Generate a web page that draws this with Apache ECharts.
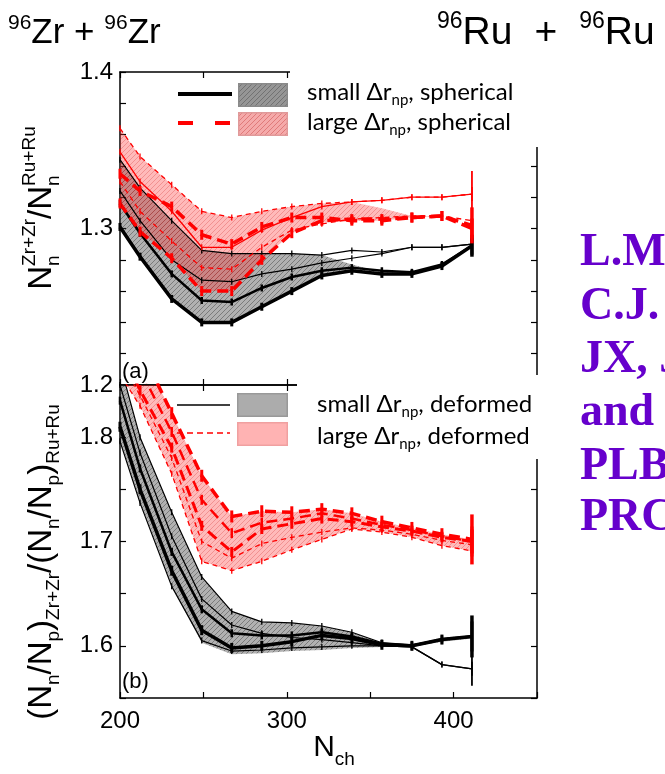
<!DOCTYPE html>
<html><head><meta charset="utf-8">
<script src="https://cdn.jsdelivr.net/npm/echarts@6/dist/echarts.min.js"></script>
<style>html,body{margin:0;padding:0;background:#fff}#c{width:665px;height:774px}</style>
</head><body><div id="c"></div>
<script>
// ---------- data ----------
const nch = [200, 212, 231, 249, 267, 285, 303, 321, 339, 357, 375, 393, 411];
const xTicks = [200, 300, 400];
// panel (a): Nn(Zr+Zr)/Nn(Ru+Ru), spherical
const aBlack1 = [1.301, 1.282, 1.255, 1.240, 1.240, 1.250, 1.260, 1.270, 1.273, 1.271, 1.271, 1.276, 1.289];
const aBlack2 = [1.316, 1.297, 1.271, 1.254, 1.253, 1.262, 1.269, 1.273, 1.275, 1.273, 1.272, 1.277, 1.289];
const aBlack3 = [1.324, 1.305, 1.280, 1.267, 1.266, 1.271, 1.274, 1.278, 1.281, 1.284, 1.288, 1.288, 1.290];
const aBlack4 = [1.344, 1.326, 1.305, 1.286, 1.284, 1.284, 1.284, 1.283, 1.286, 1.285, 1.288, 1.288, 1.290];
const aGrayLow  = [1.301, 1.282, 1.255, 1.240, 1.240, 1.250, 1.260, 1.270, 1.273, 1.271, 1.271, 1.276, 1.289];
const aGrayHigh = [1.344, 1.326, 1.305, 1.286, 1.284, 1.284, 1.284, 1.283, 1.277, 1.272, 1.272, 1.277, 1.289];
const aRed1 = [1.364, 1.346, 1.328, 1.311, 1.307, 1.311, 1.314, 1.316, 1.317, 1.318, 1.320, 1.320, 1.322];
const aRed2 = [1.349, 1.330, 1.311, 1.288, 1.288, 1.299, 1.307, 1.314, 1.317, 1.318, 1.320, 1.320, 1.322];
const aRed3 = [1.335, 1.324, 1.314, 1.296, 1.290, 1.301, 1.307, 1.307, 1.305, 1.305, 1.307, 1.308, 1.302];
const aRed4 = [1.330, 1.311, 1.292, 1.275, 1.274, 1.288, 1.299, 1.303, 1.306, 1.307, 1.308, 1.308, 1.305];
const aRed5 = [1.316, 1.298, 1.281, 1.260, 1.260, 1.280, 1.297, 1.305, 1.306, 1.306, 1.307, 1.308, 1.300];
const aPinkLow  = [1.316, 1.298, 1.281, 1.260, 1.260, 1.280, 1.297, 1.304, 1.305, 1.305, 1.307, 1.308, 1.302];
const aPinkHigh = [1.364, 1.346, 1.328, 1.311, 1.307, 1.311, 1.314, 1.316, 1.317, 1.313, 1.308, 1.308, 1.302];
// panel (b): (Nn/Np)Zr+Zr / (Nn/Np)Ru+Ru, deformed
const bBlack1 = [1.796, 1.737, 1.657, 1.605, 1.595, 1.596, 1.598, 1.599, 1.600, 1.600, 1.599, 1.582, 1.578];
const bBlack2 = [1.810, 1.750, 1.672, 1.615, 1.598, 1.600, 1.604, 1.610, 1.607, 1.601, 1.600, 1.606, 1.609];
const bBlack3 = [1.835, 1.770, 1.690, 1.635, 1.612, 1.610, 1.610, 1.613, 1.609, 1.602, 1.600, 1.606, 1.609];
const bBlack4 = [1.870, 1.800, 1.728, 1.666, 1.633, 1.623, 1.622, 1.619, 1.613, 1.603, 1.601, 1.606, 1.609];
const bBlack5 = [1.850, 1.785, 1.705, 1.645, 1.620, 1.612, 1.608, 1.606, 1.603, 1.600, 1.599, 1.582, 1.578];
const bGrayLow  = [1.796, 1.737, 1.657, 1.603, 1.592, 1.593, 1.595, 1.596, 1.598, 1.599, 1.599, 1.604, 1.607];
const bGrayHigh = [1.870, 1.800, 1.728, 1.666, 1.633, 1.623, 1.622, 1.619, 1.613, 1.603, 1.601, 1.608, 1.610];
const bRed1 = [1.925, 1.886, 1.823, 1.763, 1.724, 1.729, 1.728, 1.731, 1.727, 1.719, 1.713, 1.707, 1.702];
const bRed2 = [1.905, 1.865, 1.805, 1.740, 1.708, 1.718, 1.722, 1.727, 1.722, 1.716, 1.711, 1.705, 1.700];
const bRed3 = [1.885, 1.845, 1.790, 1.715, 1.690, 1.712, 1.717, 1.722, 1.719, 1.714, 1.710, 1.704, 1.700];
const bRed4 = [1.860, 1.830, 1.765, 1.681, 1.672, 1.681, 1.692, 1.702, 1.712, 1.709, 1.704, 1.696, 1.691];
const bRed5 = [1.875, 1.840, 1.780, 1.700, 1.684, 1.698, 1.704, 1.709, 1.713, 1.711, 1.707, 1.701, 1.697];

// ---------- helpers ----------
const SANS = '"Liberation Sans", Arial, sans-serif';
const LEG = 'Lato, "Open Sans", sans-serif';
const mctx = document.createElement('canvas').getContext('2d');
function tw(s, size, fam) { mctx.font = size + 'px ' + fam; return mctx.measureText(s).width; }
function mathText(o) {
  const fam = o.family || SANS, B = o.big, S = o.small, fill = o.fill || '#000';
  const kids = []; let x = 0;
  o.tokens.forEach(t => {
    if (typeof t === 'string') {
      kids.push({type: 'text', x: x, y: 0, z: 120, style: {text: t, font: B + 'px ' + fam, fill: fill, verticalAlign: 'middle', align: 'left'}});
      x += tw(t, B, fam);
    } else if (t.gap) {
      x += t.gap;
    } else {
      let w = 0;
      if (t.sup) { kids.push({type: 'text', x: x, y: -B * (o.supK || 0.33), z: 120, style: {text: t.sup, font: S + 'px ' + fam, fill: fill, verticalAlign: 'middle', align: 'left'}}); w = Math.max(w, tw(t.sup, S, fam)); }
      if (t.sub) { kids.push({type: 'text', x: x, y: B * (o.subK || 0.32), z: 120, style: {text: t.sub, font: S + 'px ' + fam, fill: fill, verticalAlign: 'middle', align: 'left'}}); w = Math.max(w, tw(t.sub, S, fam)); }
      x += w;
    }
  });
  const off = o.anchor === 'center' ? -x / 2 : 0;
  kids.forEach(k => { k.x += off; });
  return {type: 'group', x: o.x, y: o.y, rotation: o.rot || 0, z: 120, children: kids};
}
function hatchTile(step, bg, ln) {
  const c = document.createElement('canvas'); c.width = step; c.height = step;
  const g = c.getContext('2d');
  g.fillStyle = bg; g.fillRect(0, 0, step, step);
  g.strokeStyle = ln; g.lineWidth = 1;
  g.beginPath();
  for (let k = -step; k <= step; k += step) { g.moveTo(k, step); g.lineTo(k + step, 0); }
  g.stroke();
  return c;
}
function swatch(w, h, bg, ln, border) {
  const c = document.createElement('canvas'); c.width = w; c.height = h;
  const g = c.getContext('2d');
  g.fillStyle = bg; g.fillRect(0, 0, w, h);
  if (ln) {
    g.strokeStyle = ln; g.lineWidth = 1; g.beginPath();
    for (let k = -h; k < w + h; k += 5) { g.moveTo(k, h); g.lineTo(k + h, 0); }
    g.stroke();
  }
  g.strokeStyle = border; g.lineWidth = 1.5; g.strokeRect(0.75, 0.75, w - 1.5, h - 1.5);
  return c;
}
const grayTile = hatchTile(5, 'rgba(60,60,60,0.40)', 'rgba(0,0,0,0.30)');
const pinkTile = hatchTile(5, 'rgba(255,40,40,0.32)', 'rgba(190,0,0,0.22)');

const pts = ys => nch.map((x, i) => [x, ys[i]]);
// filled band between two series, drawn through the axes' coordinate system
function band(g, lower, upper, tile) {
  return {type: 'custom', xAxisIndex: g * 2, yAxisIndex: g * 2, data: pts(upper), z: 1, silent: true,
    renderItem: (params, api) => {
      if (params.dataIndex !== 0) return null;
      const up = nch.map((x, i) => api.coord([x, upper[i]]));
      const lo = nch.map((x, i) => api.coord([x, lower[i]])).reverse();
      const cs = params.coordSys;
      return {type: 'polygon', shape: {points: up.concat(lo)},
        style: {fill: {image: tile, repeat: 'repeat'}, stroke: null},
        clipPath: {type: 'rect', shape: {x: cs.x, y: cs.y, width: cs.width, height: cs.height}}};
    }};
}
function line(g, ys, color, width, dash, ew, en, el) {
  const last = ys.length - 1;
  return {type: 'line', xAxisIndex: g * 2, yAxisIndex: g * 2, data: pts(ys), z: 3, silent: true,
    lineStyle: {color: color, width: width, type: dash || 'solid'}, itemStyle: {color: color},
    symbol: 'rect', showSymbol: true, showAllSymbol: true,
    symbolSize: (v, p) => p.dataIndex === last ? [ew + 0.5, el] : [ew, en]};
}
const K = '#000', R = '#ff0000';
const TD = [11, 6], tD = [5, 4];

// ---------- axes ----------
const tickStyle = {inside: true, length: 6, lineStyle: {color: '#000', width: 1.2}};
const axLine = {show: true, onZero: false, lineStyle: {color: '#000', width: 1.5}};
function xAx(g, pos, labels) {
  return {gridIndex: g, type: 'value', min: 200, max: 450, interval: 50, position: pos,
    axisLine: axLine, axisTick: tickStyle, splitLine: {show: false},
    axisLabel: labels ? {show: true, margin: 11, fontSize: 24, color: '#000', fontFamily: SANS,
      formatter: v => xTicks.indexOf(v) >= 0 ? String(v) : ''} : {show: false}};
}
function yAx(g, pos, min, max, iv, labels) {
  return {gridIndex: g, type: 'value', min: min, max: max, interval: iv, position: pos,
    axisLine: axLine, axisTick: tickStyle, splitLine: {show: false},
    axisLabel: labels ? {show: true, margin: 7, fontSize: 24, color: '#000', fontFamily: SANS,
      formatter: v => Math.abs(v * 10 - Math.round(v * 10)) < 1e-6 ? v.toFixed(1) : ''} : {show: false}};
}

const series = [
  band(0, aGrayLow, aGrayHigh, grayTile),
  band(0, aPinkLow, aPinkHigh, pinkTile),
  line(0, aBlack1, K, 3.5, null, 3, 8, 22),
  line(0, aBlack2, K, 2.5, null, 2.5, 7, 18),
  line(0, aBlack3, K, 1.2, null, 1.3, 6, 14),
  line(0, aBlack4, K, 1.2, null, 1.3, 6, 14),
  line(0, aRed1, R, 1.3, tD, 1.3, 6, 14),
  line(0, aRed2, R, 1.3, null, 1.3, 6, 46),
  line(0, aRed3, R, 3.5, TD, 3, 10, 36),
  line(0, aRed4, R, 1.3, tD, 1.3, 6, 14),
  line(0, aRed5, R, 3.5, TD, 3, 10, 20),
  band(1, bGrayLow, bGrayHigh, grayTile),
  band(1, bRed4, bRed1, pinkTile),
  line(1, bBlack1, K, 1.2, null, 1.3, 6, 34),
  line(1, bBlack2, K, 3.5, null, 3, 10, 42),
  line(1, bBlack3, K, 2.5, null, 2.5, 8, 30),
  line(1, bBlack4, K, 1.2, null, 1.3, 6, 14),
  line(1, bBlack5, K, 1.2, null, 1.3, 6, 14),
  line(1, bRed1, R, 3.5, TD, 3, 12, 50),
  line(1, bRed2, R, 2.5, TD, 2.5, 10, 30),
  line(1, bRed3, R, 3, TD, 3, 10, 24),
  line(1, bRed4, R, 1.3, tD, 1.3, 6, 14),
  line(1, bRed5, R, 1.3, tD, 1.3, 6, 14)
];

// ---------- graphics ----------
const graphics = [
  {type: 'rect', z: 100, shape: {x: 290, y: 60, width: 262, height: 87}, style: {fill: '#fff'}},
  {type: 'rect', z: 100, shape: {x: 297, y: 375, width: 255, height: 84}, style: {fill: '#fff'}},
  // legend (a)
  {type: 'line', z: 110, shape: {x1: 178, y1: 94, x2: 232, y2: 94}, style: {stroke: '#000', lineWidth: 4}},
  {type: 'image', z: 110, style: {image: swatch(50, 24, 'rgba(150,150,150,1)', 'rgba(90,90,90,0.6)', '#8a8a8a'), x: 238, y: 83, width: 50, height: 24}},
  {type: 'line', z: 110, shape: {x1: 178, y1: 123, x2: 232, y2: 123}, style: {stroke: '#ff0000', lineWidth: 4, lineDash: [15, 22]}},
  {type: 'image', z: 110, style: {image: swatch(50, 24, 'rgba(245,170,170,1)', 'rgba(210,90,90,0.6)', '#e09a9a'), x: 238, y: 112, width: 50, height: 24}},
  mathText({x: 307, y: 92, tokens: ['small Δr', {sub: 'np'}, ', spherical'], big: 24, small: 15, family: LEG}),
  mathText({x: 307, y: 122, tokens: ['large Δr', {sub: 'np'}, ', spherical'], big: 24, small: 15, family: LEG}),
  // legend (b)
  {type: 'line', z: 110, shape: {x1: 177, y1: 405, x2: 230, y2: 405}, style: {stroke: '#000', lineWidth: 1.5}},
  {type: 'image', z: 110, style: {image: swatch(51, 24, '#acacac', null, '#999999'), x: 237, y: 393, width: 51, height: 24}},
  {type: 'line', z: 110, shape: {x1: 177, y1: 433, x2: 230, y2: 433}, style: {stroke: '#ff0000', lineWidth: 1.5, lineDash: [6, 4]}},
  {type: 'image', z: 110, style: {image: swatch(51, 24, '#ffb3b3', null, '#f0a0a0'), x: 237, y: 422, width: 51, height: 24}},
  mathText({x: 317, y: 404, tokens: ['small Δr', {sub: 'np'}, ', deformed'], big: 24, small: 15, family: LEG}),
  mathText({x: 317, y: 436, tokens: ['large Δr', {sub: 'np'}, ', deformed'], big: 24, small: 15, family: LEG}),
  // panel tags
  {type: 'text', z: 110, x: 122, y: 372, style: {text: '(a)', font: '22px ' + SANS, fill: '#000', verticalAlign: 'middle'}},
  {type: 'text', z: 110, x: 122, y: 682, style: {text: '(b)', font: '22px ' + SANS, fill: '#000', verticalAlign: 'middle'}},
  // headers
  mathText({x: 8, y: 33, tokens: [{sup: '96'}, 'Zr + ', {sup: '96'}, 'Zr'], big: 35, small: 21, supK: 0.28}),
  mathText({x: 437, y: 33, tokens: [{sup: '96'}, 'Ru', {gap: 22}, '+', {gap: 22}, {sup: '96'}, 'Ru'], big: 39, small: 23, supK: 0.28}),
  // axis titles
  mathText({x: 334, y: 748, anchor: 'center', tokens: ['N', {sub: 'ch'}], big: 30, small: 19, subK: 0.4}),
  mathText({x: 42, y: 208, rot: Math.PI / 2, anchor: 'center', tokens: ['N', {sup: 'Zr+Zr', sub: 'n'}, '/N', {sup: 'Ru+Ru', sub: 'n'}], big: 33, small: 19, supK: 0.36, subK: 0.36}),
  mathText({x: 42, y: 562, rot: Math.PI / 2, anchor: 'center', tokens: ['(N', {sub: 'n'}, '/N', {sub: 'p'}, ')', {sub: 'Zr+Zr'}, '/(N', {sub: 'n'}, '/N', {sub: 'p'}, ')', {sub: 'Ru+Ru'}], big: 33, small: 19, subK: 0.36})
];
const purple = ['L.M', 'C.J.', 'JX, J', 'and', 'PLB', 'PRC'];
const purpleY = [253, 307, 360, 413, 467, 518];
purple.forEach((t, i) => graphics.push({type: 'text', z: 110, x: 580, y: purpleY[i],
  style: {text: t, font: 'bold 46px "Liberation Serif", "Times New Roman", serif', fill: '#6600cc', verticalAlign: 'middle'}}));

const chart = echarts.init(document.getElementById('c'));
chart.setOption({
  animation: false,
  backgroundColor: '#fff',
  grid: [
    {left: 120, top: 72, width: 417, height: 313, outerBoundsMode: 'none'},
    {left: 120, top: 385, width: 417, height: 313, outerBoundsMode: 'none'}
  ],
  xAxis: [xAx(0, 'bottom', false), xAx(0, 'top', false), xAx(1, 'bottom', true), xAx(1, 'top', false)],
  yAxis: [yAx(0, 'left', 1.2, 1.4, 0.02, true), yAx(0, 'right', 1.2, 1.4, 0.02, false),
          yAx(1, 'left', 1.55, 1.85, 0.05, true), yAx(1, 'right', 1.55, 1.85, 0.05, false)],
  series: series,
  graphic: graphics
});
</script></body></html>
